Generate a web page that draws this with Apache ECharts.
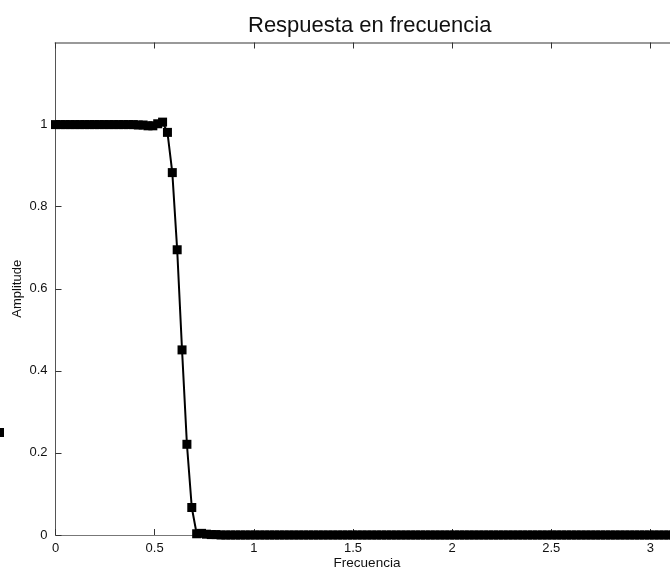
<!DOCTYPE html>
<html>
<head>
<meta charset="utf-8">
<script src="https://cdn.jsdelivr.net/npm/echarts@6/dist/echarts.min.js"></script>
<style>
  html, body { margin: 0; padding: 0; background: #ffffff; }
  #chart { width: 670px; height: 571px; }
</style>
</head>
<body>
<div id="chart"></div>
<script>
// Frequency grid (rad/sample), 0 .. pi
var frecuencia = [
  0.0000, 0.0245, 0.0491, 0.0736, 0.0982, 0.1227, 0.1473, 0.1718, 0.1963, 0.2209,
  0.2454, 0.2700, 0.2945, 0.3191, 0.3436, 0.3682, 0.3927, 0.4172, 0.4418, 0.4663,
  0.4909, 0.5154, 0.5400, 0.5645, 0.5890, 0.6136, 0.6381, 0.6627, 0.6872, 0.7118,
  0.7363, 0.7609, 0.7854, 0.8099, 0.8345, 0.8590, 0.8836, 0.9081, 0.9327, 0.9572,
  0.9817, 1.0063, 1.0308, 1.0554, 1.0799, 1.1045, 1.1290, 1.1536, 1.1781, 1.2026,
  1.2272, 1.2517, 1.2763, 1.3008, 1.3254, 1.3499, 1.3744, 1.3990, 1.4235, 1.4481,
  1.4726, 1.4972, 1.5217, 1.5463, 1.5708, 1.5953, 1.6199, 1.6444, 1.6690, 1.6935,
  1.7181, 1.7426, 1.7671, 1.7917, 1.8162, 1.8408, 1.8653, 1.8899, 1.9144, 1.9390,
  1.9635, 1.9880, 2.0126, 2.0371, 2.0617, 2.0862, 2.1108, 2.1353, 2.1598, 2.1844,
  2.2089, 2.2335, 2.2580, 2.2826, 2.3071, 2.3317, 2.3562, 2.3807, 2.4053, 2.4298,
  2.4544, 2.4789, 2.5035, 2.5280, 2.5525, 2.5771, 2.6016, 2.6262, 2.6507, 2.6753,
  2.6998, 2.7243, 2.7489, 2.7734, 2.7980, 2.8225, 2.8471, 2.8716, 2.8962, 2.9207,
  2.9452, 2.9698, 2.9943, 3.0189, 3.0434, 3.0680, 3.0925, 3.1170, 3.1416
];

// Magnitude of the frequency response
var amplitud = [
  1.000, 1.000, 1.000, 1.000, 1.000, 1.000, 1.000, 1.000, 1.000, 1.000,
  1.000, 1.000, 1.000, 1.000, 1.000, 1.000, 1.000, 0.999, 0.999, 0.997,
  0.997, 1.002, 1.006, 0.981, 0.883, 0.695, 0.451, 0.221, 0.067, 0.003,
  0.004, 0.002, 0.001, 0.001, 0.000, 0.000, 0.000, 0.000, 0.000, 0.000,
  0.000, 0.000, 0.000, 0.000, 0.000, 0.000, 0.000, 0.000, 0.000, 0.000,
  0.000, 0.000, 0.000, 0.000, 0.000, 0.000, 0.000, 0.000, 0.000, 0.000,
  0.000, 0.000, 0.000, 0.000, 0.000, 0.000, 0.000, 0.000, 0.000, 0.000,
  0.000, 0.000, 0.000, 0.000, 0.000, 0.000, 0.000, 0.000, 0.000, 0.000,
  0.000, 0.000, 0.000, 0.000, 0.000, 0.000, 0.000, 0.000, 0.000, 0.000,
  0.000, 0.000, 0.000, 0.000, 0.000, 0.000, 0.000, 0.000, 0.000, 0.000,
  0.000, 0.000, 0.000, 0.000, 0.000, 0.000, 0.000, 0.000, 0.000, 0.000,
  0.000, 0.000, 0.000, 0.000, 0.000, 0.000, 0.000, 0.000, 0.000, 0.000,
  0.000, 0.000, 0.000, 0.000, 0.000, 0.000, 0.000, 0.000, 0.000
];

var xTicks = [0, 0.5, 1, 1.5, 2, 2.5, 3];
var yTicks = [0, 0.2, 0.4, 0.6, 0.8, 1];

var FONT = 'Liberation Sans, Arial, Helvetica, sans-serif';

var points = frecuencia.map(function (f, i) { return [f, amplitud[i]]; });

function fmt(v) { return String(Math.round(v * 10) / 10); }

var chart = echarts.init(document.getElementById('chart'), null, { renderer: 'canvas' });

chart.setOption({
  animation: false,
  backgroundColor: '#ffffff',
  title: {
    text: 'Respuesta en frecuencia',
    left: 243,
    top: 10,
    textStyle: { fontFamily: FONT, fontSize: 22, fontWeight: 'normal', color: '#111' }
  },
  grid: {
    left: 55.5, top: 42.5, right: -8.5, bottom: 36,
    containLabel: false,
    outerBoundsMode: 'none'
  },
  xAxis: [
    {
      type: 'value', min: 0, max: Math.PI, interval: 0.5,
      position: 'bottom',
      name: 'Frecuencia', nameLocation: 'middle', nameGap: 21,
      nameMoveOverlap: false,
      nameTextStyle: { fontFamily: FONT, fontSize: 13.5, color: '#111' },
      axisLine: { show: true, onZero: false, lineStyle: { color: '#777', width: 1 } },
      axisTick: { show: true, inside: true, length: 6, lineStyle: { color: '#333' } },
      axisLabel: {
        fontFamily: FONT, fontSize: 13, color: '#111', margin: 7,
        showMaxLabel: false,
        formatter: function (v) { return xTicks.indexOf(Math.round(v * 10) / 10) >= 0 ? fmt(v) : ''; }
      },
      splitLine: { show: false }
    },
    {
      type: 'value', min: 0, max: Math.PI, interval: 0.5,
      position: 'top',
      axisLine: { show: true, onZero: false, lineStyle: { color: '#999', width: 2 } },
      axisTick: { show: true, inside: true, length: 6, lineStyle: { color: '#333' } },
      axisLabel: { show: false },
      splitLine: { show: false }
    }
  ],
  yAxis: {
    type: 'value', min: 0, max: 1.2, interval: 0.2,
    name: 'Amplitude', nameLocation: 'middle', nameGap: 32, nameRotate: 90,
    nameMoveOverlap: false,
    nameTextStyle: { fontFamily: FONT, fontSize: 13, color: '#111' },
    axisLine: { show: true, onZero: false, lineStyle: { color: '#555', width: 1 } },
    axisTick: { show: true, inside: true, length: 6, lineStyle: { color: '#333' } },
    axisLabel: {
      fontFamily: FONT, fontSize: 13, color: '#111', margin: 8,
      showMaxLabel: false,
      formatter: function (v) { return yTicks.indexOf(Math.round(v * 10) / 10) >= 0 ? fmt(v) : ''; }
    },
    splitLine: { show: false }
  },
  series: [{
    type: 'line',
    data: points,
    xAxisIndex: 0,
    showAllSymbol: true,
    symbol: 'rect',
    symbolSize: 9,
    itemStyle: { color: '#000' },
    lineStyle: { color: '#000', width: 2 },
    clip: true,
    z: 3
  }],
  graphic: [{
    type: 'rect',
    shape: { x: -5, y: 428, width: 9, height: 9 },
    style: { fill: '#000' }
  }]
});
</script>
</body>
</html>
